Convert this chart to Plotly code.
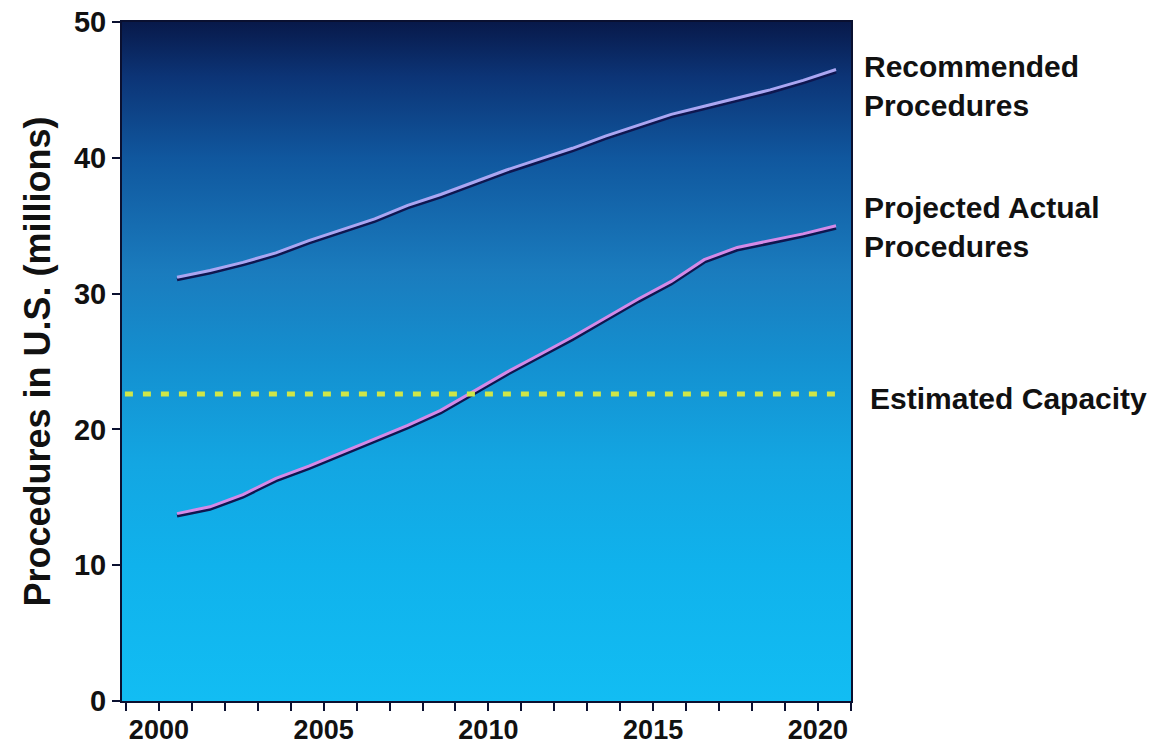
import plotly.graph_objects as go

# ---- data ----
years = list(range(2000, 2021))
recommended = [31.2, 31.7, 32.3, 33.0, 33.9, 34.7, 35.5, 36.5, 37.3, 38.2, 39.1,
               39.9, 40.7, 41.6, 42.4, 43.2, 43.8, 44.4, 45.0, 45.7, 46.5]
projected = [13.8, 14.3, 15.2, 16.4, 17.3, 18.3, 19.3, 20.3, 21.4, 22.8, 24.2,
             25.5, 26.8, 28.2, 29.6, 30.9, 32.5, 33.4, 33.9, 34.4, 35.0]
capacity = 22.6
tick_years = list(range(1999, 2022))
tick_labels = [str(y) if y % 5 == 0 else "" for y in tick_years]
y_ticks = [0, 10, 20, 30, 40, 50]

X_RANGE = [1998.33, 2020.455]
Y_RANGE = [0, 50]
TICK_OFFSET = 0.55

fig = go.Figure()

# gradient background
fig.add_trace(go.Scatter(
    x=[X_RANGE[0], X_RANGE[1], X_RANGE[1], X_RANGE[0], X_RANGE[0]],
    y=[Y_RANGE[0], Y_RANGE[0], Y_RANGE[1], Y_RANGE[1], Y_RANGE[0]],
    mode="lines", line=dict(width=0), fill="toself",
    fillgradient=dict(type="vertical", start=Y_RANGE[0], stop=Y_RANGE[1],
                      colorscale=[[0.0, "#12bdf3"], [0.2, "#10b2ec"],
                                  [0.35, "#13a6e2"], [0.5, "#1490d0"],
                                  [0.63, "#1a7cbe"], [0.8, "#10579e"],
                                  [0.92, "#0c3476"], [1.0, "#08194a"]]),
    hoverinfo="skip", showlegend=False))

def add_line(vals, color):
    fig.add_trace(go.Scatter(x=years, y=[v - 0.17 for v in vals], mode="lines",
                             line=dict(color="#0e1650", width=3.5),
                             hoverinfo="skip", showlegend=False))
    fig.add_trace(go.Scatter(x=years, y=vals, mode="lines",
                             line=dict(color=color, width=3),
                             showlegend=False))

add_line(recommended, "#aaa6f2")
add_line(projected, "#d48ae8")

# estimated capacity dotted line
fig.add_shape(type="line", xref="paper", yref="y", x0=0.004, x1=0.982,
              y0=capacity, y1=capacity,
              line=dict(color="#cfe648", width=5, dash="8px,10px"))

ann_font = dict(family="Liberation Sans, Arial, sans-serif", size=30, color="#111111")
fig.add_annotation(xref="paper", yref="y", x=1, y=45.3, xshift=11, xanchor="left",
                   yanchor="middle", align="left", showarrow=False,
                   text="<b>Recommended<br>Procedures</b>", font=ann_font)
fig.add_annotation(xref="paper", yref="y", x=1, y=34.9, xshift=11, xanchor="left",
                   yanchor="middle", align="left", showarrow=False,
                   text="<b>Projected Actual<br>Procedures</b>", font=ann_font)
fig.add_annotation(xref="paper", yref="y", x=1, y=22.3, xshift=17, xanchor="left",
                   yanchor="middle", align="left", showarrow=False,
                   text="<b>Estimated Capacity</b>", font=ann_font)

fig.update_layout(
    width=1162, height=747,
    margin=dict(l=122, r=311, t=22, b=46),
    paper_bgcolor="white", plot_bgcolor="white",
    showlegend=False,
    xaxis=dict(range=X_RANGE, tickvals=[y - TICK_OFFSET for y in tick_years],
               ticktext=tick_labels, ticks="outside", ticklen=8, tickwidth=2,
               tickcolor="#0a1030", showgrid=False, zeroline=False, automargin=False,
               showline=True, linecolor="#0a1030", linewidth=2, mirror=True,
               ticklabelstandoff=-4,
               tickfont=dict(family="Liberation Sans Narrow, Arial Narrow, Liberation Sans, sans-serif",
                             size=27, color="#111111", weight="bold")),
    yaxis=dict(range=Y_RANGE, tickvals=y_ticks, ticks="outside", ticklen=8,
               tickwidth=2, tickcolor="#0a1030", showgrid=False, zeroline=False,
               automargin=False,
               showline=True, linecolor="#0a1030", linewidth=2, mirror=True,
               tickfont=dict(family="Liberation Sans, Arial, sans-serif", size=29,
                             color="#111111", weight="bold"),
               title=dict(text="<b>Procedures in U.S. (millions)</b>", standoff=12,
                          font=dict(family="Liberation Sans, Arial, sans-serif",
                                    size=36, color="#111111"))),
)

fig.write_html("out.html")
